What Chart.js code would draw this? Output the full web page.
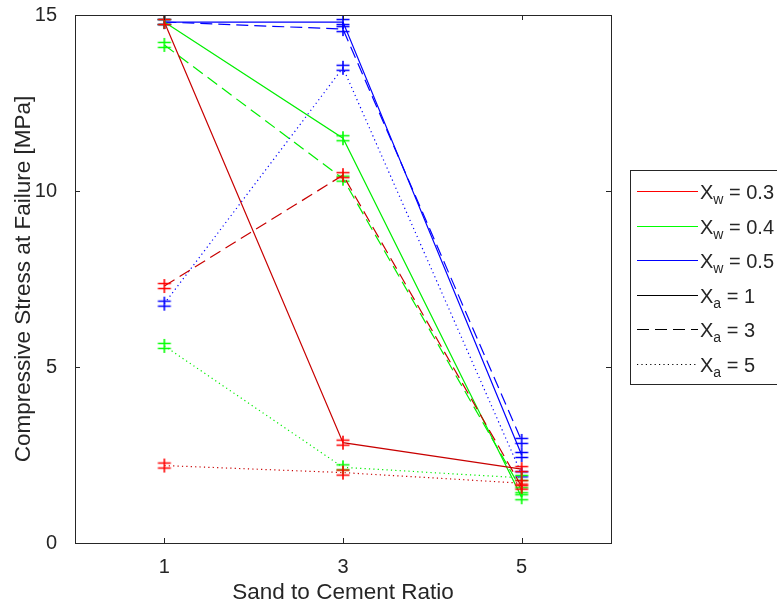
<!DOCTYPE html>
<html>
<head>
<meta charset="utf-8">
<script src="https://cdn.jsdelivr.net/npm/chart.js@4"></script>
<style>
  html, body { margin: 0; padding: 0; background: #fff; }
  #wrap { width: 777px; height: 610px; position: relative; }
</style>
</head>
<body>
<div id="wrap"><canvas id="myChart" width="777" height="610"></canvas></div>
<script>
// sand to cement ratio on the x axis
let sandRatio = [1, 3, 5];
let xTicks = [1, 3, 5];
let yTicks = [0, 5, 10, 15];

// water ratio groups (colour) and aggregate groups (line style)
let xwValues = ['0.3', '0.4', '0.5'];
let xaValues = ['1', '3', '5'];

// compressive stress at failure [MPa]
let w03_a1 = [14.8, 2.85, 2.1];
let w03_a3 = [7.3, 10.45, 1.6];
let w03_a5 = [2.2, 2.0, 1.7];

let w04_a1 = [14.8, 11.5, 1.3];
let w04_a3 = [14.15, 10.35, 1.5];
let w04_a5 = [5.6, 2.15, 1.85];

let w05_a1 = [14.8, 14.8, 2.5];
let w05_a3 = [14.8, 14.6, 2.9];
let w05_a5 = [6.8, 13.5, 1.95];

let FONT = '"Liberation Sans", Arial, Helvetica, sans-serif';
let AXIS = '#262626';
let colors = ['#ff0000', '#00ff00', '#0000ff'];
let lineColors = ['#c80000', '#00ee00', '#0000ff'];
let dashes = [[], [12, 6], [1.2, 3.2]];

// errorbar-like marker: vertical bar with two short caps
function makeMarker(color){
    let c = document.createElement('canvas');
    c.width = 16; c.height = 16;
    let g = c.getContext('2d');
    g.strokeStyle = color;
    g.lineWidth = 1.6;
    g.beginPath();
    g.moveTo(8, 1); g.lineTo(8, 15);
    g.moveTo(1.5, 5.5); g.lineTo(14.5, 5.5);
    g.moveTo(1.5, 10.5); g.lineTo(14.5, 10.5);
    g.stroke();
    return c;
}

let groups = [
    [w03_a1, w03_a3, w03_a5],
    [w04_a1, w04_a3, w04_a5],
    [w05_a1, w05_a3, w05_a5]
];

let datasets = [];
groups.forEach(function(grp, i){
    let marker = makeMarker(colors[i]);
    grp.forEach(function(vals, j){
        datasets.push({
            label: 'Xw=' + xwValues[i] + ' Xa=' + xaValues[j],
            data: sandRatio.map(function(x, k){ return {x: x, y: vals[k]}; }),
            borderColor: lineColors[i],
            backgroundColor: colors[i],
            borderWidth: 1.2,
            borderDash: dashes[j],
            pointStyle: marker,
            pointRadius: 8,
            pointHoverRadius: 8,
            fill: false,
            tension: 0,
            clip: false
        });
    });
});

// box, inward ticks and the legend
let boxPlugin = {
    id: 'boxPlugin',
    afterDatasetsDraw: function(chart){
        let ctx = chart.ctx;
        let a = chart.chartArea;
        let xs = chart.scales.x, ys = chart.scales.y;
        ctx.save();
        ctx.strokeStyle = AXIS;
        ctx.lineWidth = 1;
        ctx.setLineDash([]);
        ctx.strokeRect(Math.round(a.left) + 0.5, Math.round(a.top) + 0.5,
            Math.round(a.right - a.left), Math.round(a.bottom - a.top));
        ctx.beginPath();
        xTicks.forEach(function(v){
            let px = Math.round(xs.getPixelForValue(v)) + 0.5;
            ctx.moveTo(px, a.bottom); ctx.lineTo(px, a.bottom - 5);
            ctx.moveTo(px, a.top); ctx.lineTo(px, a.top + 5);
        });
        yTicks.forEach(function(v){
            let py = Math.round(ys.getPixelForValue(v)) + 0.5;
            ctx.moveTo(a.left, py); ctx.lineTo(a.left + 5, py);
            ctx.moveTo(a.right, py); ctx.lineTo(a.right - 5, py);
        });
        ctx.stroke();
        ctx.restore();
    },
    afterDraw: function(chart){
        let ctx = chart.ctx;
        ctx.save();
        let bx = 630.5, by = 170.5, bw = 160, bh = 214;
        ctx.fillStyle = '#fff';
        ctx.fillRect(bx, by, bw, bh);
        ctx.strokeStyle = AXIS;
        ctx.lineWidth = 1;
        ctx.strokeRect(bx, by, bw, bh);
        let rows = [];
        xwValues.forEach(function(v, i){ rows.push({sub: 'w', val: v, color: colors[i], dash: []}); });
        xaValues.forEach(function(v, j){ rows.push({sub: 'a', val: v, color: '#000', dash: dashes[j]}); });
        rows.forEach(function(r, k){
            let y = Math.round(191 + k * 34.6) + 0.5;
            ctx.strokeStyle = r.color;
            ctx.lineWidth = 1.1;
            ctx.setLineDash(r.dash);
            ctx.beginPath();
            ctx.moveTo(637, y); ctx.lineTo(698, y);
            ctx.stroke();
            ctx.setLineDash([]);
            ctx.fillStyle = AXIS;
            ctx.textBaseline = 'alphabetic';
            ctx.textAlign = 'left';
            ctx.font = '20px ' + FONT;
            let x = 700;
            ctx.fillText('X', x, y + 7);
            x += ctx.measureText('X').width;
            ctx.font = '14px ' + FONT;
            ctx.fillText(r.sub, x, y + 12);
            x += ctx.measureText(r.sub).width;
            ctx.font = '20px ' + FONT;
            ctx.fillText(' = ' + r.val, x, y + 7);
        });
        ctx.restore();
    }
};

let ctx = document.getElementById('myChart').getContext('2d');
let myChart = new Chart(ctx, {
    type: 'line',
    data: { datasets: datasets },
    options: {
        responsive: false,
        animation: false,
        events: [],
        layout: { padding: { left: 0, right: 166, top: 15, bottom: 0 } },
        plugins: {
            legend: { display: false },
            tooltip: { enabled: false }
        },
        scales: {
            x: {
                type: 'linear',
                min: 0,
                max: 6,
                afterBuildTicks: function(axis){
                    axis.ticks = xTicks.map(function(v){ return {value: v}; });
                },
                afterFit: function(scale){
                    scale.height = 67;
                    scale.paddingLeft = 0;
                    scale.paddingRight = 0;
                },
                grid: { display: false },
                border: { display: false },
                ticks: {
                    color: AXIS,
                    padding: 4,
                    maxRotation: 0,
                    font: { family: FONT, size: 20 }
                },
                title: {
                    display: true,
                    text: 'Sand to Cement Ratio',
                    color: AXIS,
                    font: { family: FONT, size: 22.5 },
                    padding: { top: 0, bottom: 4 }
                }
            },
            y: {
                min: 0,
                max: 15,
                afterBuildTicks: function(axis){
                    axis.ticks = yTicks.map(function(v){ return {value: v}; });
                },
                afterFit: function(scale){
                    scale.width = 75;
                    scale.paddingTop = 0;
                    scale.paddingBottom = 0;
                },
                grid: { display: false },
                border: { display: false },
                ticks: {
                    color: AXIS,
                    padding: 10,
                    font: { family: FONT, size: 20 }
                },
                title: {
                    display: true,
                    text: 'Compressive Stress at Failure [MPa]',
                    color: AXIS,
                    font: { family: FONT, size: 22.5 },
                    padding: { top: 10, bottom: 0 }
                }
            }
        }
    },
    plugins: [boxPlugin]
});
</script>
</body>
</html>
